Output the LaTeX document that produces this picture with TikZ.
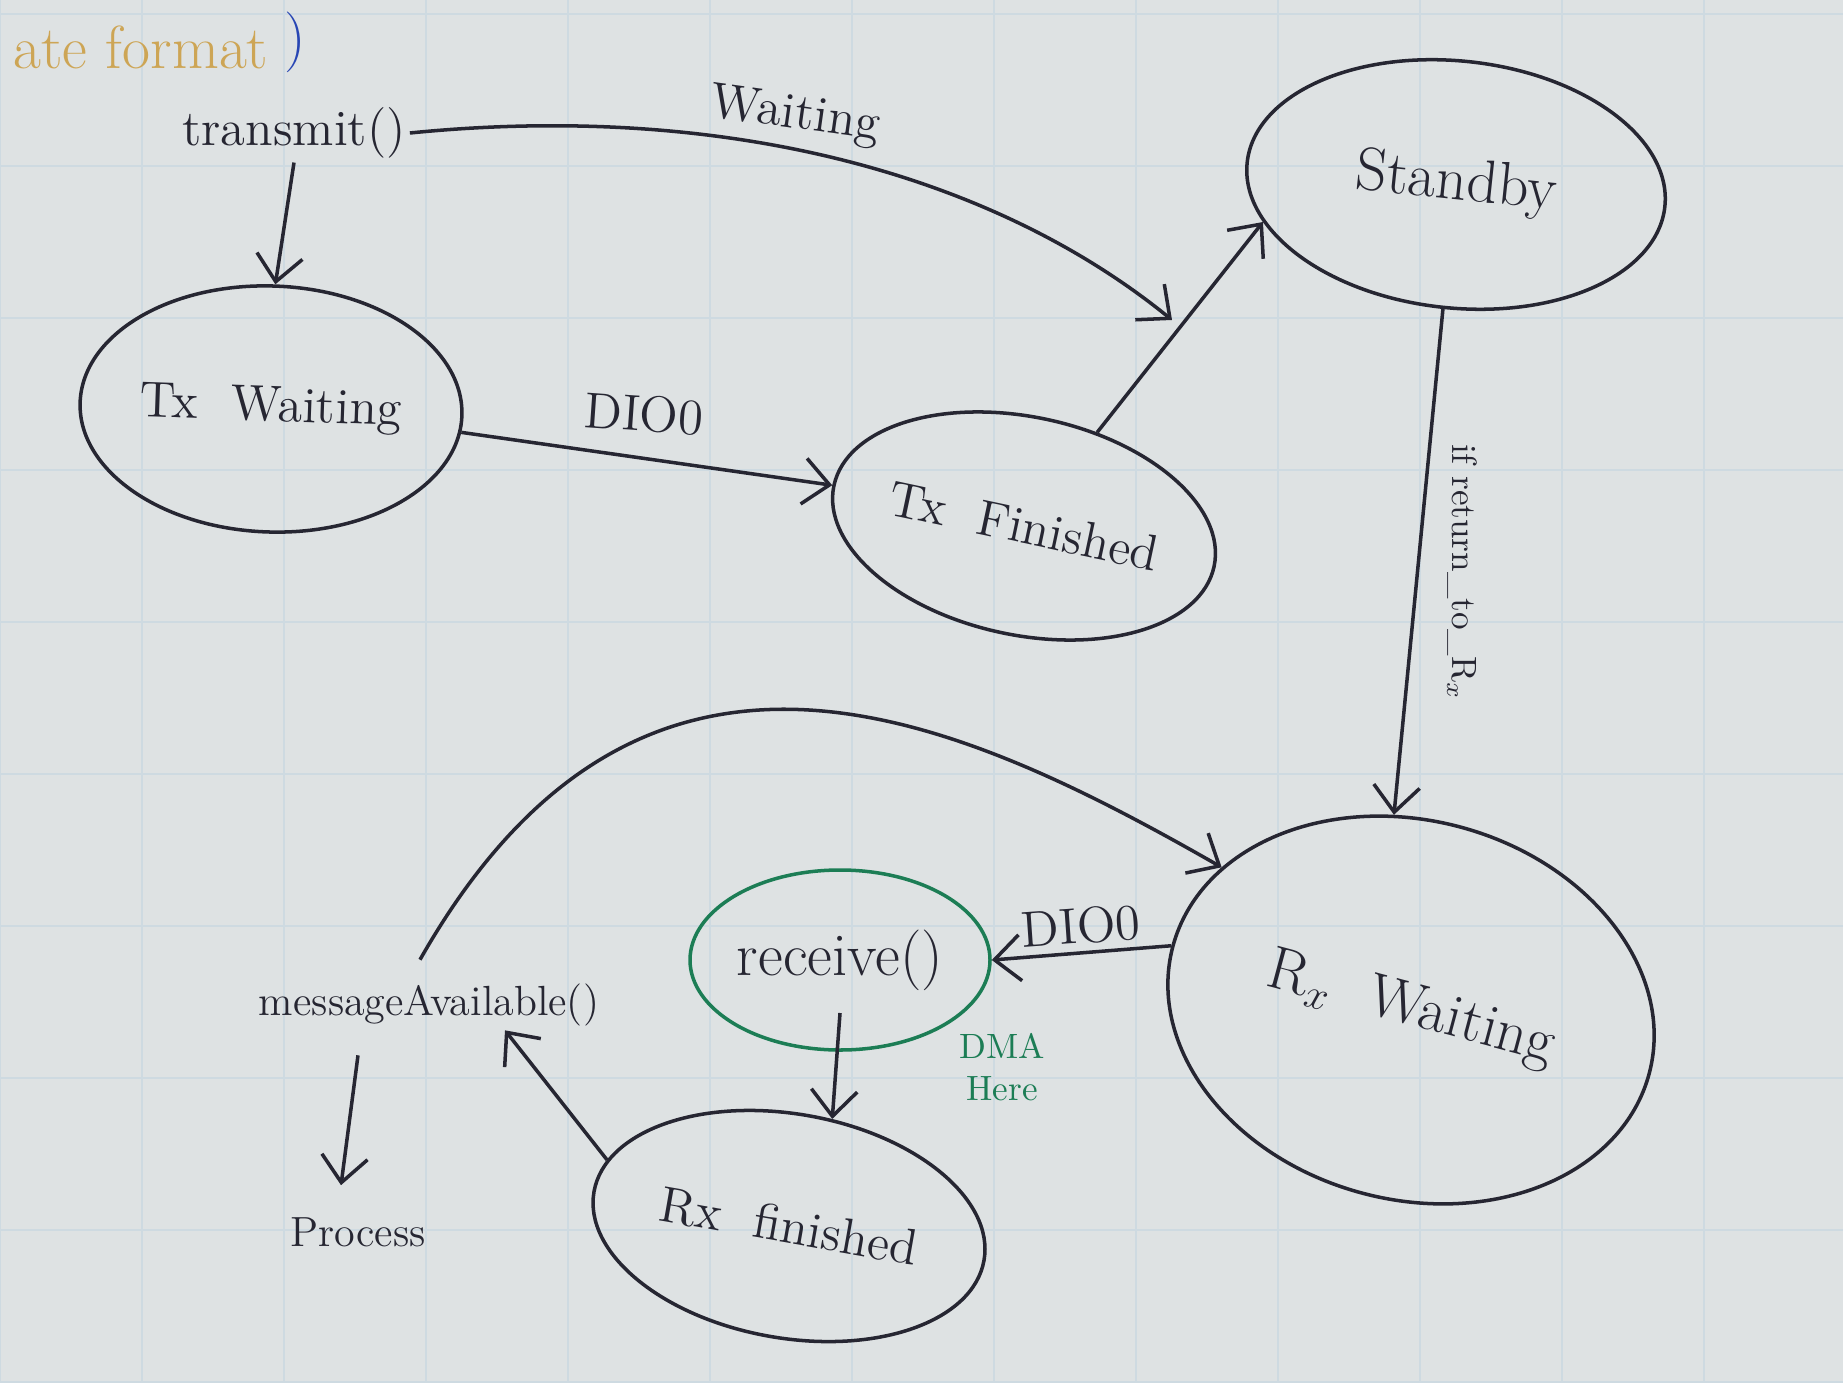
\documentclass[tikz,border=0pt]{standalone}
\usetikzlibrary{arrows.meta,shapes.geometric}

\definecolor{paper}{RGB}{222,226,227}
\definecolor{gridline}{RGB}{206,218,225}
\definecolor{ink}{RGB}{38,38,50}
\definecolor{greenink}{RGB}{28,125,85}
\definecolor{yellowink}{RGB}{205,165,85}
\definecolor{blueink}{RGB}{40,70,180}

\begin{document}
\begin{tikzpicture}[
  state/.style={draw=ink, ellipse, line width=1pt, inner sep=0pt, text=ink},
  lbl/.style={text=ink, inner sep=1pt},
  arr/.style={draw=ink, line width=1pt, -{Straight Barb[length=2.6mm,width=4.6mm]}}
]

% paper
\useasboundingbox (0,0) rectangle (18.43,13.82);
\fill[paper] (0,0) rectangle (18.43,13.82);
\draw[gridline, line width=0.6pt, xstep=1.42, ystep=1.52] (-0.35,-0.2) grid (18.43,13.82);

% note at the top
\node[text=yellowink, inner sep=0pt] (note) at (1.41,13.35) {\LARGE ate format};
\node[text=blueink, inner sep=0pt] (paren) at (2.95,13.40) {\LARGE )};

% states
\node[state, minimum width=3.82cm, minimum height=2.46cm, rotate=-2] (txwait) at (2.71,9.73) {\Large Tx\ \ Waiting};
\node[state, minimum width=3.09cm, minimum height=2.18cm, rotate=-12] (txfin) at (10.24,8.56) {\Large Tx\ \ Finished};
\node[state, minimum width=4.2cm, minimum height=2.47cm, rotate=-6] (standby) at (14.56,11.975) {\LARGE Standby};
\node[state, minimum width=4.93cm, minimum height=3.79cm, rotate=-15] (rxwait) at (14.11,3.72) {\LARGE R$_x$\ \ Waiting};
\node[state, draw=greenink, minimum width=3.0cm, minimum height=1.8cm] (receive) at (8.40,4.22) {\LARGE receive()};
\node[state, minimum width=3.96cm, minimum height=2.24cm, rotate=-10] (rxfin) at (7.89,1.56) {\Large Rx\ \ finished};

% plain labels
\node[lbl] (transmit) at (2.94,12.49) {\Large transmit()};
\node[lbl] (msgavail) at (4.29,3.77) {\large messageAvailable()};
\node[lbl] (process) at (3.58,1.50) {\large Process};
\node[text=greenink, align=center, inner sep=1pt] (dma) at (10.02,3.15) {DMA\\Here};

% edge labels
\node[lbl, rotate=-8] (waitlbl) at (7.95,12.66) {\Large Waiting};
\node[lbl, rotate=-4] (diotx) at (6.44,9.68) {\Large DIO0};
\node[lbl, rotate=-90] (retlbl) at (14.62,8.10) {if return\_to\_R$_x$};
\node[lbl, rotate=4] (diorx) at (10.81,4.56) {\Large DIO0};

\coordinate (waitend) at (11.72,10.62);

% transitions
\draw[arr] (transmit.east) .. controls (7.2,12.8) and (9.9,12.1) .. (waitend);
\draw[arr] (transmit.south) -- (txwait.north);
\draw[arr] (txwait.-5) -- (txfin.west);
\draw[arr] (txfin.64) -- (standby.197);
\draw[arr] (standby.south) -- (rxwait.110);
\draw[arr] (rxwait.west) -- (receive.east);
\draw[arr] ([yshift=-5.3mm]receive.center) -- (rxfin.78);
\draw[arr] (rxfin.170) -- ([xshift=7.6mm]msgavail.south);
\draw[arr] ([xshift=-7.1mm,yshift=-2.5mm]msgavail.south) -- ([xshift=-1.7mm,yshift=2.8mm]process.north);
\draw[arr] ([xshift=-0.9mm,yshift=2mm]msgavail.north) .. controls (6.4,8.1) and (9.5,6.7) .. (rxwait.158);

\end{tikzpicture}
\end{document}
